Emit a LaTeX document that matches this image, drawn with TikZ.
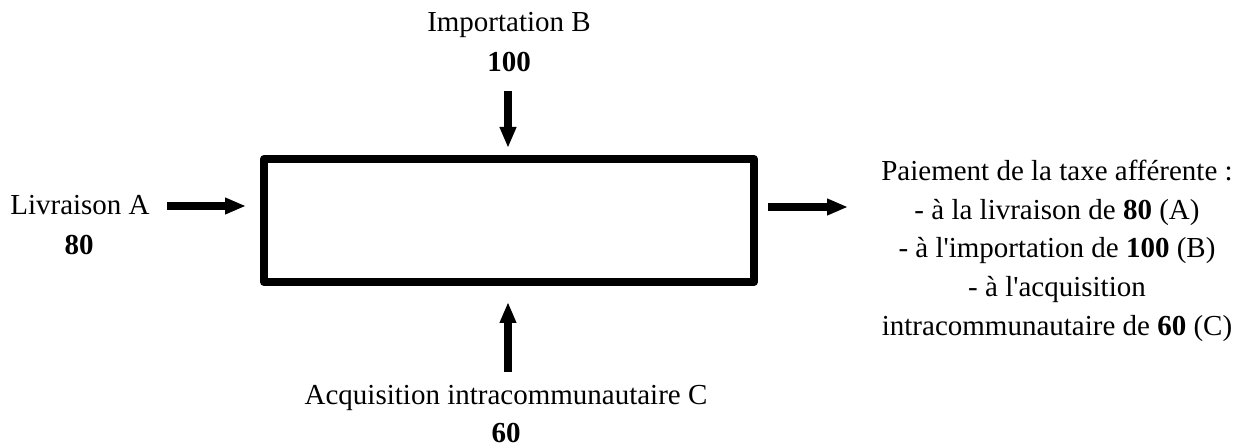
\documentclass[tikz,border=0pt]{standalone}
\usepackage{fontspec}
\newfontfamily\tnr{Liberation Serif}
\usetikzlibrary{arrows.meta}
\begin{document}
\begin{tikzpicture}[x=0.75pt,y=-0.75pt,
  lbl/.style={font=\tnr\fontsize{21.75}{26}\selectfont, anchor=base, inner sep=0pt},
  arr/.style={line width=6pt, -{Triangle[length=15pt,width=13pt,line width=0pt]}},
  frame/.style={draw, line width=6pt, line join=round, minimum width=367.5pt, minimum height=92.25pt, inner sep=0pt}]
\useasboundingbox (0,0) rectangle (1249,448);
\node[frame] (box) at (509,220.5) {};
\node[lbl] (imp) at (509,32) {Importation B};
\node[lbl] (impv) at (509,72) {\textbf{100}};
\node[lbl] (liv) at (80,215) {Livraison A};
\node[lbl] (livv) at (79,255) {\textbf{80}};
\node[lbl] (acq) at (506,405) {Acquisition intracommunautaire C};
\node[lbl, text depth=0pt] (acqv) at (506,443) {\textbf{60}};
\node[lbl] (p1) at (1057,181) {Paiement de la taxe afférente :};
\node[lbl] (p2) at (1057,220) {- à la livraison de \textbf{80} (A)};
\node[lbl] (p3) at (1057,258) {- à l'importation de \textbf{100} (B)};
\node[lbl] (p4) at (1057,297) {- à l'acquisition};
\node[lbl] (p5) at (1057,336) {intracommunautaire de \textbf{60} (C)};
\coordinate (ls) at (167,206);
\coordinate (ts) at (508,91);
\coordinate (bs) at (508,372);
\coordinate (re) at (847,207);
\draw[arr, shorten >=11.25pt] (ls) -- (ls -| box.west);
\draw[arr, shorten >=6pt] (ts) -- (ts |- box.north);
\draw[arr, shorten >=12.75pt] (bs) -- (bs |- box.south);
\draw[arr, shorten <=7.5pt] (box.east |- re) -- (re);
\end{tikzpicture}
\end{document}
